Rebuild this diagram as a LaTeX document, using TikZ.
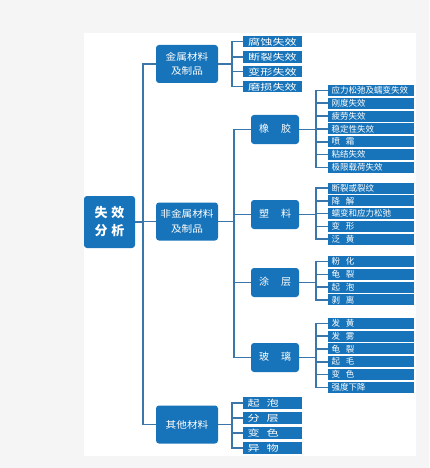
\documentclass[tikz,border=0pt]{standalone}
\usepackage{fontspec}
\setmainfont{Noto Sans CJK SC}
\newfontfamily\cjkwide{Noto Sans CJK SC}[FakeStretch=1.4]
\newfontfamily\cjkmid{Noto Sans CJK SC}[FakeStretch=1.12]
\definecolor{boxblue}{RGB}{24,116,186}
\definecolor{lineblue}{RGB}{58,118,170}
\definecolor{pagegray}{RGB}{245,245,245}
\begin{document}
\begin{tikzpicture}[x=1pt,y=-1pt,every node/.style={text=white,inner sep=0pt},
  rootbox/.style={fill=boxblue,rounded corners=3pt,minimum width=51pt,minimum height=52pt,align=center,font=\fontsize{13}{18}\selectfont\bfseries},
  midbox/.style={fill=boxblue,rounded corners=3pt,minimum width=62pt,minimum height=38pt,align=center,font=\cjkmid\fontsize{9.5}{14.5}\selectfont},
  subbox/.style={fill=boxblue,rounded corners=3pt,minimum width=48pt,minimum height=29pt,text height=7.6pt,text depth=0.8pt,font=\fontsize{10}{12}\selectfont},
  leaf/.style={fill=boxblue,minimum height=11pt,text width=79pt,inner xsep=3.5pt,align=left,text height=7.3pt,text depth=0.9pt,font=\fontsize{8.5}{9}\selectfont},
  wideleaf/.style={fill=boxblue,minimum height=11.5pt,text width=55pt,inner xsep=2pt,align=center,text height=8.2pt,text depth=0.5pt,font=\cjkwide\fontsize{8.7}{10}\selectfont},
  otherleaf/.style={wideleaf,text width=50pt,inner xsep=4.5pt,align=left},
  link/.style={draw=lineblue,line width=1.6pt}]
  \useasboundingbox (0,0) rectangle (429,468);
  \fill[pagegray] (0,0) rectangle (429,468);
  \fill[white] (84,33) rectangle (416,456);
  % root and second level
  \node[rootbox] (root) at (109.5,222) {失\hspace{4pt}效\\分\hspace{4pt}析};
  \node[midbox] (metal) at (187,64) {金属材料\\及制品};
  \node[midbox] (nonmetal) at (187,221.5) {非金属材料\\及制品};
  \node[midbox] (other) at (187,424.5) {其他材料};
  \foreach \mid in {metal,nonmetal,other}
    \draw[link] (root.east) -- ++(8,0) |- (\mid.west);
  % third level
  \foreach \y/\nm/\lab in {129.5/rubber/橡\hspace{12pt}胶, 214.5/plastic/塑\hspace{12pt}料,%
    282.5/coating/涂\hspace{12pt}层, 357.5/glass/玻\hspace{12pt}璃} {
    \node[subbox] (\nm) at (275,\y) {\lab};
    \draw[link] (nonmetal.east) -- ++(16,0) |- (\nm.west);
  }
  % leaves
  \foreach \y/\lab [count=\n] in {41.5/腐蚀失效, 57/断裂失效, 71.5/变形失效, 86.5/磨损失效} {
    \node[wideleaf] (m\n) at (272.5,\y) {\lab};
    \draw[link] (metal.east) -- ++(14,0) |- (m\n.west);
  }
  \foreach \y/\lab [count=\n] in {403/起\hspace{7pt}泡, 418/分\hspace{7pt}层, 433/变\hspace{7pt}色, 448/异\hspace{7pt}物} {
    \node[otherleaf] (o\n) at (272.5,\y) {\lab};
    \draw[link] (other.east) -- ++(14,0) |- (o\n.west);
  }
  \foreach \y/\lab [count=\n] in {90.5/应力松弛及蠕变失效, 103.3/刚度失效, 116.1/疲劳失效,%
    128.9/稳定性失效, 141.7/喷\hspace{6pt}霜, 154.5/粘结失效, 167.3/极限载荷失效} {
    \node[leaf] (r\n) at (371,\y) {\lab};
    \draw[link] (rubber.east) -- ++(17,0) |- (r\n.west);
  }
  \foreach \y/\lab [count=\n] in {188/断裂或裂纹, 200.8/降\hspace{6pt}解, 213.5/蠕变和应力松弛,%
    226.3/变\hspace{6pt}形, 239/泛\hspace{6pt}黄} {
    \node[leaf] (p\n) at (371,\y) {\lab};
    \draw[link] (plastic.east) -- ++(17,0) |- (p\n.west);
  }
  \foreach \y/\lab [count=\n] in {261.5/粉\hspace{6pt}化, 274.3/龟\hspace{6pt}裂, 287.1/起\hspace{6pt}泡, 299.9/剥\hspace{6pt}离} {
    \node[leaf] (c\n) at (371,\y) {\lab};
    \draw[link] (coating.east) -- ++(17,0) |- (c\n.west);
  }
  \foreach \y/\lab [count=\n] in {323.3/发\hspace{6pt}黄, 336.1/发\hspace{6pt}雾, 348.9/龟\hspace{6pt}裂,%
    361.7/起\hspace{6pt}毛, 374.5/变\hspace{6pt}色, 387.3/强度下降} {
    \node[leaf] (g\n) at (371,\y) {\lab};
    \draw[link] (glass.east) -- ++(17,0) |- (g\n.west);
  }
\end{tikzpicture}
\end{document}
